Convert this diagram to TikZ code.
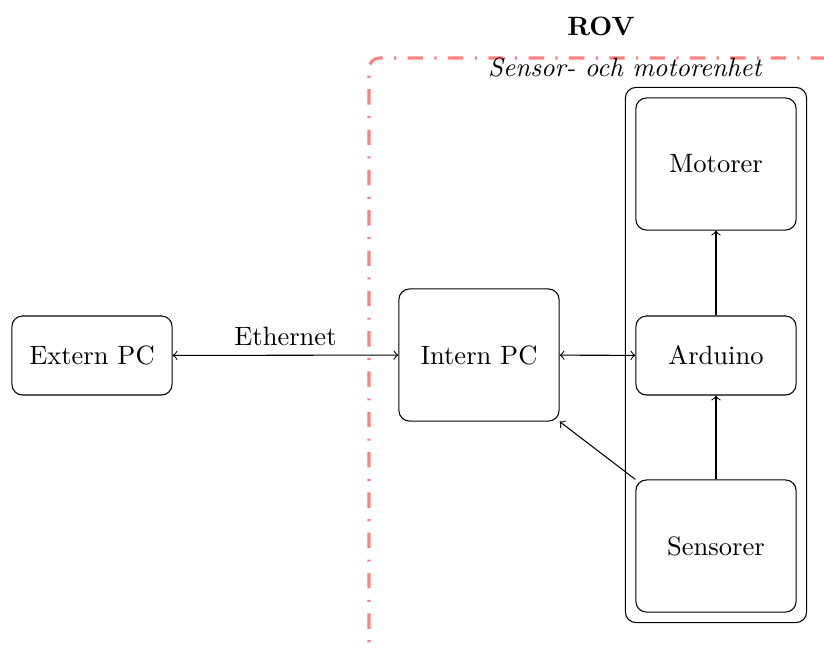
\documentclass[tikz,border=0pt]{standalone}
\usetikzlibrary{fit}
\begin{document}
\begin{tikzpicture}[x=0.377pt,y=-0.377pt,
  block/.style={draw, rounded corners=4pt, align=center, minimum width=60.4pt},
  short/.style={minimum height=29.8pt},
  tall/.style={minimum height=49.8pt},
  link/.style={<->},
  flow/.style={->},
  rovframe/.style={draw=red!50, line width=1.15pt, rounded corners=4pt,
    dash pattern=on 5.8pt off 4.3pt on 0.8pt off 4.3pt}]
\useasboundingbox (0,0) rectangle (824,649);
\clip (0,0) rectangle (824,649);

% ROV boundary
\draw[rovframe] (369,720) rectangle (833,58);
\node[font=\bfseries] (rov) at (601,26) {ROV};

% blocks
\node[block, short] (ext) at (92,355.5) {Extern PC};
\node[block, tall] (int) at (479,355) {Intern PC};
\node[block, tall] (mot) at (716,164) {Motorer};
\node[block, short] (ard) at (716,355.5) {Arduino};
\node[block, tall] (sen) at (716,546) {Sensorer};

% sensor and motor unit
\node[draw, rounded corners=4pt, fit=(mot)(ard)(sen), inner sep=3.77pt] (unit) {};
\node[anchor=south, font=\itshape] (unitlabel) at (unit.north west) {Sensor- och motorenhet};

% connections
\draw[link] (ext) -- node[above] {Ethernet} (int);
\draw[link] (int) -- (ard);
\draw[flow] (ard) -- (mot);
\draw[flow] (sen) -- (ard);
\draw[flow] (sen.north west) -- (int.south east);
\end{tikzpicture}
\end{document}
